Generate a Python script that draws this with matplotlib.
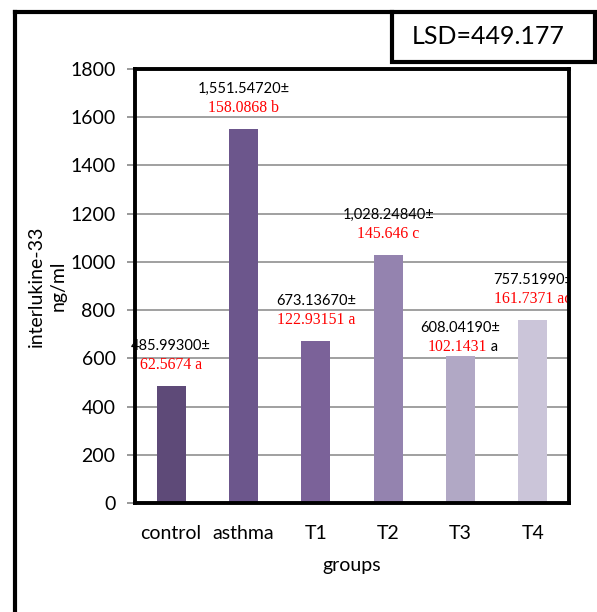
import matplotlib.pyplot as plt
from matplotlib.patches import Rectangle
from matplotlib.lines import Line2D

# group values (interleukin-33, ng/ml)
groups = ['control', 'asthma', 'T1', 'T2', 'T3', 'T4']
means = [485.993, 1551.5472, 673.1367, 1028.2484, 608.0419, 757.5199]
mean_txt = ['485.99300±', '1,551.54720±', '673.13670±', '1,028.24840±', '608.04190±', '757.51990±']
sd_txt = ['62.5674 a', '158.0868 b', '122.93151 a', '145.646 c', '102.1431', '161.7371 ac']
colors = ['#5e4a78', '#6c568c', '#7b6299', '#9483af', '#b1a8c5', '#cbc5d9']
lsd = 'LSD=449.177'

# label heights above the axis (data units)
lab_y = [651, 1717, 838, 1195, 726, 925]
lab_gap = 78

sans = ['Lato', 'DejaVu Sans']
serif = ['Liberation Serif', 'DejaVu Serif']

fig = plt.figure(figsize=(5.97, 6.12), dpi=100)
ax = fig.add_axes([0.2261, 0.1781, 0.727, 0.7092])

x = range(len(groups))
ax.bar(x, means, width=0.4, color=colors, zorder=2)

ax.set_ylim(0, 1800)
ax.set_xlim(-0.5, 5.5)
ax.set_yticks(range(0, 1801, 200))
ax.set_xticks(list(x))
ax.set_xticklabels(groups, family=sans, fontsize=14)
for t in ax.get_yticklabels():
    t.set_family(sans)
    t.set_fontsize(14)
ax.tick_params(axis='y', length=6, width=1.2, color='#888888', pad=8)
ax.tick_params(axis='x', length=0, pad=16)
ax.grid(axis='y', color='#999999', linewidth=1.3, zorder=0)
ax.set_axisbelow(True)
for s in ax.spines.values():
    s.set_linewidth(2.8)
    s.set_color('black')
    s.set_zorder(5)

last = len(groups) - 1
for i in range(len(groups)):
    # the last label runs under the right frame, the others sit on top
    clip = i == last
    z = 3 if clip else 6
    ax.text(i, lab_y[i], mean_txt[i], ha='center', va='center',
            family=sans, fontsize=10.5, color='black', zorder=z, clip_on=clip)
    if groups[i] == 'T3':
        ax.text(i + 0.37, lab_y[i] - lab_gap, sd_txt[i], ha='right', va='center',
                family=serif, fontsize=11.3, color='red', zorder=z)
        ax.text(i + 0.37, lab_y[i] - lab_gap, ' a', ha='left', va='center',
                family=sans, fontsize=10.5, color='black', zorder=z)
    else:
        ax.text(i, lab_y[i] - lab_gap, sd_txt[i], ha='center', va='center',
                family=serif, fontsize=11.3, color='red', zorder=z, clip_on=clip)

fig.text(352 / 597, 1 - 566 / 612, 'groups', ha='center', va='center',
         family=sans, fontsize=14)
fig.text(47.5 / 597, 1 - 286 / 612, 'interlukine-33\nng/ml', ha='center', va='center',
         rotation=90, family=sans, fontsize=14, linespacing=1.35)

# outer frame and LSD box
fig.add_artist(Line2D([15 / 597, 15 / 597], [0, 1 - 12 / 612], color='black', linewidth=3))
fig.add_artist(Line2D([15 / 597, 392 / 597], [1 - 12 / 612, 1 - 12 / 612], color='black', linewidth=3))
fig.add_artist(Rectangle((392 / 597, 1 - 62 / 612), 203 / 597, 50 / 612, fill=False,
                         edgecolor='black', linewidth=3, transform=fig.transFigure))
fig.text(488 / 597, 1 - 37 / 612, lsd, ha='center', va='center', family=sans, fontsize=18)

fig.savefig('out.png', dpi=100)
